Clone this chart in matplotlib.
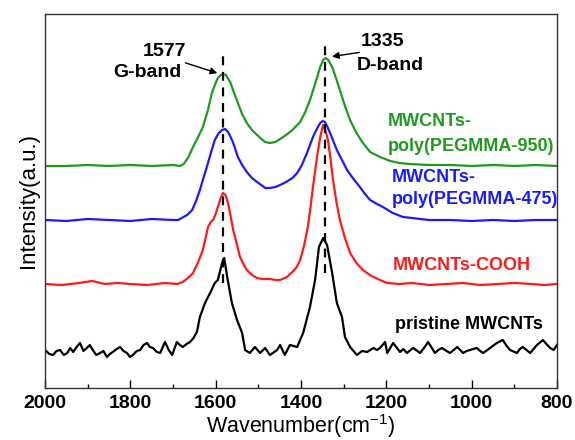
import numpy as np
import matplotlib
matplotlib.use('Agg')
import matplotlib.pyplot as plt
from matplotlib.ticker import MultipleLocator

plt.rcParams['font.family'] = ['Liberation Sans', 'DejaVu Sans']
plt.rcParams['mathtext.default'] = 'regular'

# Raman spectra, offset stacks (wavenumber cm-1, intensity a.u.)
green_w = [2000, 1950, 1900, 1850, 1800, 1750, 1700, 1684, 1675, 1665, 1653, 1640, 1630, 1618, 1609, 1600,
           1595, 1588, 1582, 1576, 1566, 1556, 1548, 1538, 1527, 1515, 1503, 1490, 1484, 1473, 1460, 1449,
           1435, 1420, 1402, 1390, 1379, 1370, 1362, 1355, 1348, 1342, 1336, 1327, 1318, 1309, 1297, 1285,
           1270, 1255, 1238, 1215, 1191, 1170, 1145, 1100, 1050, 1000, 950, 900, 850, 800]
green_i = [222, 222, 223, 222, 223, 222, 223, 222, 224, 230, 241, 252, 261, 278, 295, 305,
           310, 313, 314, 313, 306, 294, 285, 274, 265, 258, 253, 248, 246, 245, 246, 249,
           253, 258, 266, 276, 288, 300, 311, 321, 328, 330, 328, 321, 310, 298, 282, 268,
           255, 245, 236, 231, 227, 225, 224, 223, 223, 222, 223, 222, 223, 222]

blue_w = [2000, 1950, 1900, 1850, 1800, 1750, 1700, 1688, 1667, 1655, 1646, 1637, 1628, 1618, 1610, 1602,
          1593, 1585, 1578, 1571, 1565, 1559, 1548, 1538, 1527, 1515, 1503, 1490, 1484, 1473, 1460, 1449,
          1435, 1420, 1409, 1398, 1386, 1372, 1363, 1355, 1349, 1344, 1338, 1332, 1316, 1304, 1292, 1277,
          1262, 1250, 1238, 1222, 1208, 1185, 1161, 1140, 1121, 1100, 1050, 1000, 950, 900, 850, 800]
blue_i = [168, 167, 169, 168, 167, 169, 168, 168, 173, 178, 187, 198, 211, 225, 237, 248,
          255, 258, 259, 256, 251, 245, 231, 223, 216, 210, 206, 202, 200, 200, 201, 203,
          206, 210, 215, 223, 235, 251, 259, 265, 267, 266, 261, 255, 238, 228, 218, 209,
          201, 194, 188, 184, 181, 175, 171, 170, 169, 168, 168, 167, 168, 167, 168, 168]

red_w = [2000, 1960, 1920, 1890, 1860, 1830, 1800, 1760, 1720, 1690, 1677, 1665, 1653, 1642, 1630, 1618,
         1610, 1606, 1600, 1595, 1589, 1583, 1577, 1571, 1565, 1559, 1550, 1543, 1535, 1527, 1515, 1503,
         1490, 1473, 1460, 1449, 1433, 1420, 1410, 1402, 1393, 1384, 1378, 1372, 1366, 1360, 1354, 1348,
         1343, 1337, 1331, 1325, 1317, 1309, 1297, 1285, 1270, 1255, 1235, 1215, 1198, 1170, 1140, 1100,
         1060, 1020, 980, 940, 900, 860, 830, 800]
red_i = [104, 103, 105, 107, 104, 105, 104, 103, 105, 104, 106, 110, 115, 125, 138, 161,
         167, 168, 174, 181, 189, 195, 193, 185, 172, 158, 143, 131, 124, 118, 113, 110,
         109, 109, 108, 108, 111, 116, 121, 128, 142, 161, 180, 201, 220, 238, 253, 263,
         258, 248, 230, 208, 186, 168, 150, 135, 125, 118, 112, 108, 105, 104, 105, 103,
         104, 105, 103, 104, 105, 104, 103, 104]

black_w = [2000, 1990, 1981, 1973, 1965, 1956, 1948, 1941, 1934, 1926, 1918, 1910, 1902, 1895, 1888, 1880,
           1871, 1863, 1855, 1848, 1841, 1832, 1824, 1816, 1808, 1801, 1794, 1785, 1777, 1769, 1761, 1754,
           1747, 1738, 1730, 1719, 1710, 1702, 1691, 1684, 1677, 1668, 1660, 1652, 1644, 1637, 1625, 1613,
           1602, 1595, 1585, 1580, 1573, 1562, 1550, 1538, 1531, 1520, 1508, 1496, 1484, 1473, 1466, 1456,
           1449, 1438, 1426, 1409, 1395, 1379, 1367, 1358, 1348, 1339, 1327, 1316, 1304, 1297, 1285, 1269,
           1257, 1245, 1230, 1222, 1215, 1203, 1198, 1184, 1168, 1160, 1152, 1137, 1121, 1110, 1102, 1086,
           1078, 1070, 1051, 1042, 1034, 1020, 1012, 1004, 988, 980, 973, 957, 941, 927, 918, 910,
           894, 887, 880, 863, 855, 847, 833, 825, 816, 808, 800]
black_i = [38, 34, 33, 37, 38, 33, 35, 40, 36, 41, 45, 37, 40, 43, 38, 33,
           35, 37, 31, 34, 36, 39, 41, 37, 35, 31, 33, 37, 38, 43, 45, 41,
           40, 36, 35, 46, 38, 33, 46, 43, 41, 44, 46, 50, 56, 71, 85, 95,
           105, 108, 125, 130, 111, 85, 68, 55, 38, 35, 41, 35, 40, 33, 35, 38,
           43, 33, 43, 41, 55, 81, 108, 141, 150, 143, 115, 85, 71, 51, 41, 33,
           37, 36, 40, 38, 40, 46, 35, 45, 36, 39, 35, 40, 35, 41, 46, 35,
           38, 40, 35, 38, 41, 35, 37, 38, 40, 37, 35, 40, 45, 48, 42, 38,
           35, 39, 41, 35, 39, 43, 48, 44, 40, 38, 43]

g_peak, d_peak = 1583, 1344

fig = plt.figure(figsize=(5.75, 4.4), dpi=100)
ax = fig.add_axes([0.0783, 0.1182, 0.8904, 0.8500])

ax.plot(black_w, black_i, color='black', lw=1.6)
ax.plot(red_w, red_i, color='#ff1a1a', lw=1.6)
ax.plot(blue_w, blue_i, color='#1a1aff', lw=1.6)
ax.plot(green_w, green_i, color='#1f9a1f', lw=1.6)

ax.plot([g_peak, g_peak], [105, 336], color='black', ls=(0, (4, 3)), lw=1.6)
ax.plot([d_peak, d_peak], [115, 348], color='black', ls=(0, (4, 3)), lw=1.6)

bold = dict(fontsize=13, fontweight='bold')
ax.text(1196, 266, 'MWCNTs-', color='#1f9a1f', va='center', **bold)
ax.text(1196, 241, 'poly(PEGMMA-950)', color='#1f9a1f', va='center', **bold)
ax.text(1187, 210, 'MWCNTs-', color='#1a1aff', va='center', **bold)
ax.text(1187, 188, 'poly(PEGMMA-475)', color='#1a1aff', va='center', **bold)
ax.text(1184, 122, 'MWCNTs-COOH', color='#ff1a1a', va='center', **bold)
ax.text(1180, 63, 'pristine MWCNTs', color='black', va='center', **bold)

ax.text(1719, 336, '1577', ha='center', va='center', fontsize=14, fontweight='bold')
ax.text(1761, 315, 'G-band', ha='center', va='center', fontsize=14, fontweight='bold')
ax.text(1208, 346, '1335', ha='center', va='center', fontsize=14, fontweight='bold')
ax.text(1191, 322, 'D-band', ha='center', va='center', fontsize=14, fontweight='bold')
ax.annotate('', xy=(1590, 314), xytext=(1677, 326),
            arrowprops=dict(arrowstyle='-|>', color='black', lw=1.0, mutation_scale=10))
ax.annotate('', xy=(1334, 331), xytext=(1257, 336),
            arrowprops=dict(arrowstyle='-|>', color='black', lw=1.0, mutation_scale=10))

ax.set_xlim(2000, 800)
ax.set_ylim(0, 374)
ax.xaxis.set_major_locator(MultipleLocator(200))
ax.xaxis.set_minor_locator(MultipleLocator(100))
ax.tick_params(axis='x', which='major', direction='in', length=6, width=1, labelsize=14, pad=5)
ax.tick_params(axis='x', which='minor', direction='in', length=3, width=1)
for lab in ax.get_xticklabels():
    lab.set_fontweight('bold')
ax.set_yticks([])
for s in ax.spines.values():
    s.set_linewidth(1.0)
    s.set_color('#333333')

ax.set_xlabel('Wavenumber(cm$^{-1}$)', fontsize=15.5, labelpad=0)
ax.set_ylabel('Intensity(a.u.)', fontsize=16, labelpad=4)

fig.savefig('out.png', dpi=100)
